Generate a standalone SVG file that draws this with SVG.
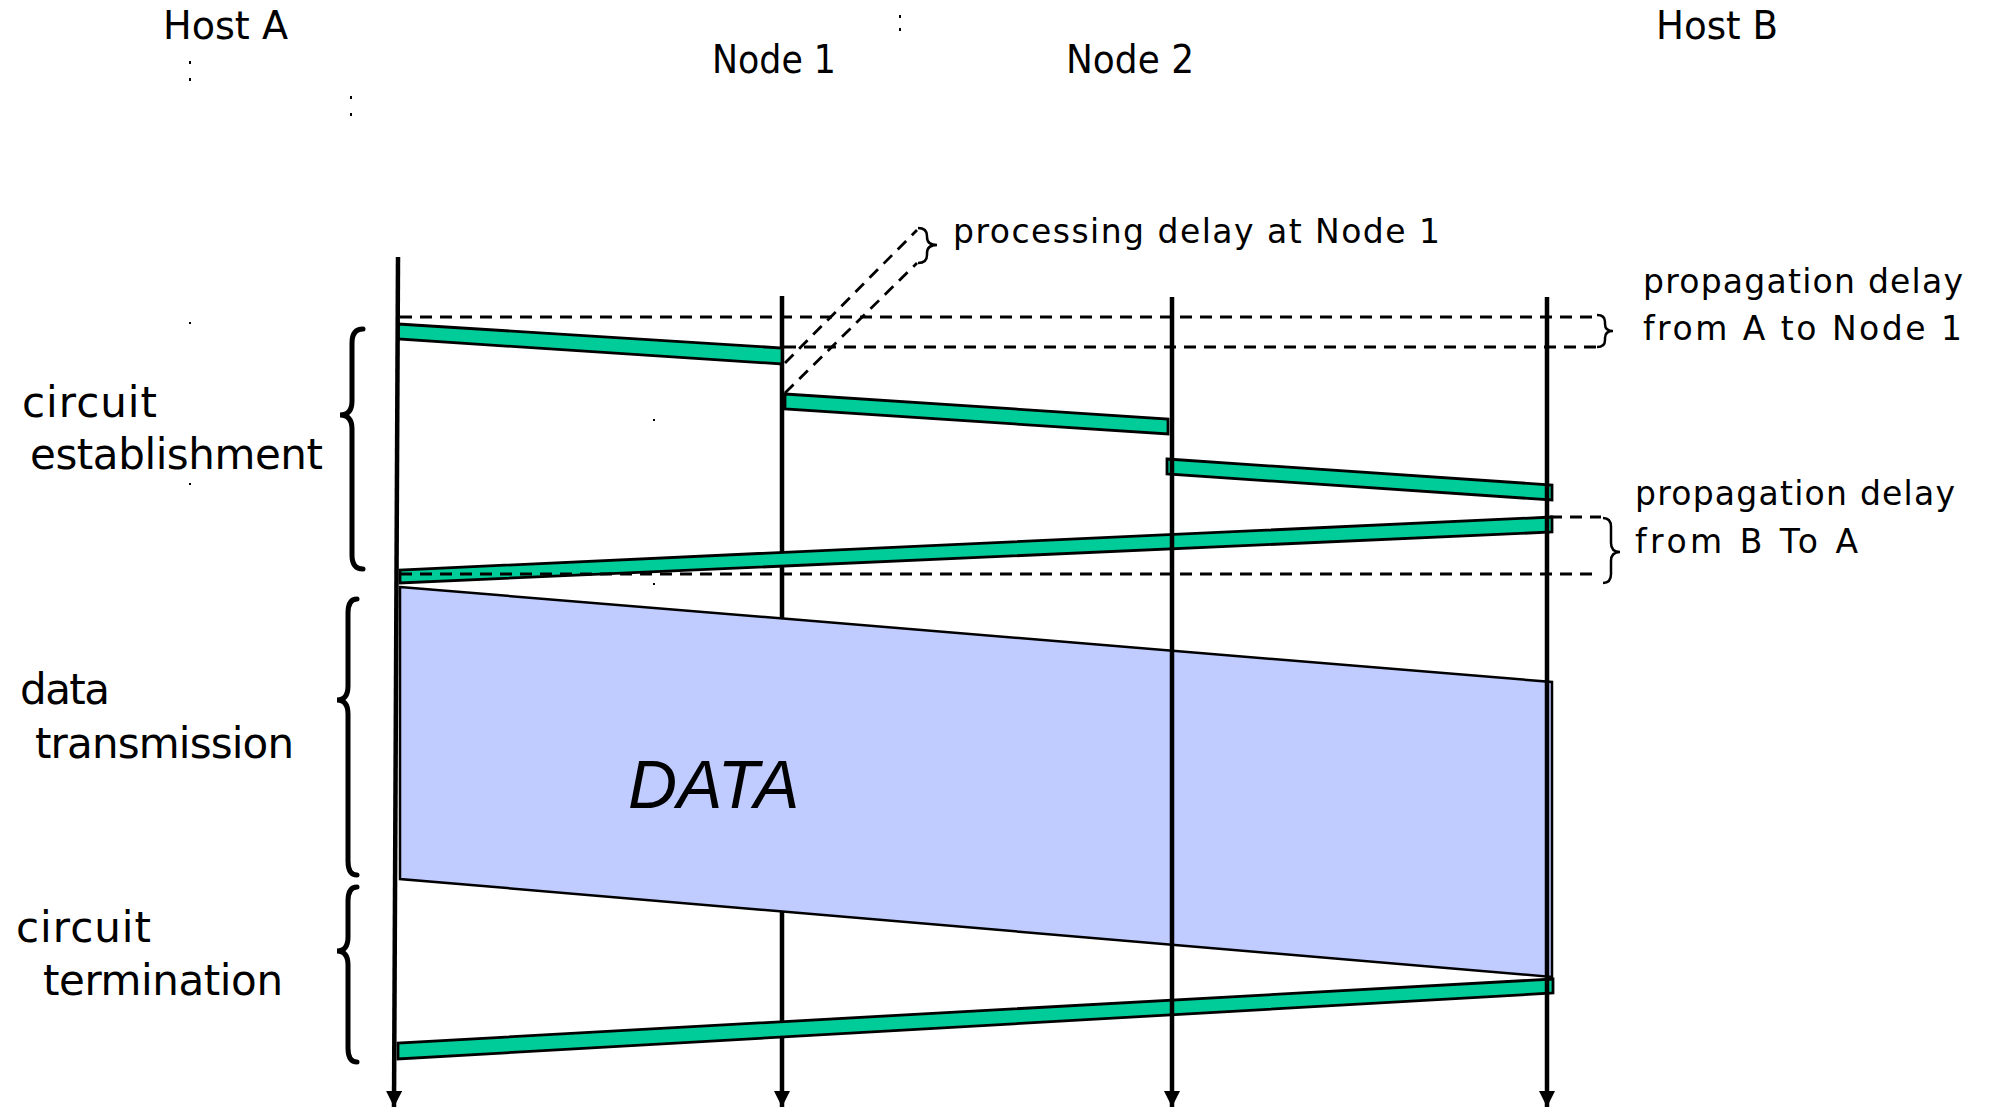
<svg xmlns="http://www.w3.org/2000/svg" width="1990" height="1107" viewBox="0 0 1990 1107">
  <style>
    .lbl { font-family: "DejaVu Sans", "Noto Sans", sans-serif; fill: #000; }
    .head { font-size: 39px; }
    .phase { font-size: 42px; }
    .note { font-size: 33px; }
    .timeline { stroke: #000; stroke-width: 4.5; fill: none; marker-end: url(#arrow); }
    .bar { fill: #00CC99; stroke: #000; stroke-width: 2.8; stroke-linejoin: miter; }
    .data { fill: #C0CBFF; stroke: #000; stroke-width: 2.5; }
    .dash { stroke: #000; stroke-width: 2.8; stroke-dasharray: 12 8; fill: none; }
    .brace-big { stroke: #000; stroke-width: 5; fill: none; stroke-linecap: round; }
    .brace-thin { stroke: #000; stroke-width: 2.5; fill: none; }
    .dot { fill: #000; }
  </style>
  <defs>
    <marker id="arrow" markerUnits="userSpaceOnUse" markerWidth="17" markerHeight="17" refX="16" refY="8" orient="auto">
      <path d="M0,0 L16,8 L0,16 z" fill="#000"/>
    </marker>
  </defs>

  <rect width="1990" height="1107" fill="#fff"/>

  <!-- column headings -->
  <g id="headings">
    <text class="lbl head" x="163" y="39" textLength="125" lengthAdjust="spacingAndGlyphs">Host A</text>
    <text class="lbl head" x="712" y="73" textLength="124" lengthAdjust="spacingAndGlyphs">Node 1</text>
    <text class="lbl head" x="1066" y="73" textLength="128" lengthAdjust="spacingAndGlyphs">Node 2</text>
    <text class="lbl head" x="1656" y="39" textLength="122" lengthAdjust="spacingAndGlyphs">Host B</text>
  </g>

  <!-- stray marks -->
  <g id="marks">
    <rect class="dot" x="189" y="61" width="2" height="3"/>
    <rect class="dot" x="189" y="78" width="2" height="3"/>
    <rect class="dot" x="350" y="96" width="2" height="3"/>
    <rect class="dot" x="350" y="113" width="2" height="3"/>
    <rect class="dot" x="899" y="15" width="2" height="3"/>
    <rect class="dot" x="899" y="28" width="2" height="3"/>
    <rect class="dot" x="189" y="322" width="2" height="2"/>
    <rect class="dot" x="189" y="483" width="2" height="2"/>
    <rect class="dot" x="653" y="419" width="2" height="2"/>
    <rect class="dot" x="653" y="583" width="2" height="2"/>
  </g>

  <!-- Node 1 timeline sits beneath the messages -->
  <g id="node-1">
    <line class="timeline" x1="782" y1="296" x2="782" y2="1107"/>
  </g>

  <!-- messages, data block and delay markers -->
  <g id="connectors">
    <polygon class="data" points="400,587 1552,682 1552,977 400,879"/>
    <text x="628" y="808" font-family="'Liberation Sans', Arial, sans-serif" font-style="italic" font-size="68">DATA</text>

    <!-- circuit setup request, hop by hop -->
    <polygon class="bar" points="398,324 782,348 782,364 398,339"/>
    <polygon class="bar" points="785,394 1168,419 1168,434 785,409"/>
    <polygon class="bar" points="1167,459 1552,485 1552,500 1167,474"/>
    <!-- confirmation back to Host A -->
    <polygon class="bar" points="1552,517 400,570 400,583 1552,532"/>
    <!-- circuit teardown -->
    <polygon class="bar" points="1553,979 398,1043 398,1059 1553,993"/>

    <!-- delay guides -->
    <line class="dash" x1="400" y1="317" x2="1597" y2="317"/>
    <line class="dash" x1="784" y1="347" x2="1597" y2="347"/>
    <line class="dash" x1="1550" y1="517" x2="1601" y2="517"/>
    <line class="dash" x1="400" y1="574" x2="1594" y2="574"/>
    <line class="dash" x1="785" y1="363" x2="917" y2="230"/>
    <line class="dash" x1="785" y1="393" x2="917" y2="263"/>

    <path class="brace-thin" d="M918,228 Q927,228 927,236 L927,237 Q927,245 937,245 Q927,245 927,253 L927,255 Q927,263 918,263"/>
    <path class="brace-thin" d="M1597,315 Q1605,315 1605,322 L1605,324 Q1605,331 1613,331 Q1605,331 1605,338 L1605,340 Q1605,347 1597,347"/>
    <path class="brace-thin" d="M1603,518 Q1611,518 1611,527 L1611,543 Q1611,552 1620,552 Q1611,552 1611,561 L1611,574 Q1611,583 1603,583"/>
  </g>

  <!-- remaining timelines drawn on top -->
  <g id="host-a">
    <line class="timeline" x1="398" y1="257" x2="394" y2="1107"/>
  </g>
  <g id="node-2">
    <line class="timeline" x1="1172" y1="297" x2="1172" y2="1107"/>
  </g>
  <g id="host-b">
    <line class="timeline" x1="1547" y1="297" x2="1547" y2="1107"/>
  </g>

  <!-- delay annotations -->
  <g id="annotations">
    <text class="lbl note" x="953" y="243" textLength="487">processing delay at Node 1</text>
    <text class="lbl note" x="1643" y="293" textLength="320">propagation delay</text>
    <text class="lbl note" x="1643" y="340" textLength="319">from A to Node 1</text>
    <text class="lbl note" x="1635" y="505" textLength="320">propagation delay</text>
    <text class="lbl note" x="1635" y="553" textLength="223">from B To A</text>
  </g>

  <!-- phases -->
  <g id="phase-establishment">
    <path class="brace-big" d="M363,329 Q352,329 352,343 L352,401 Q352,415 340,415 Q352,415 352,429 L352,555 Q352,569 363,569"/>
    <text class="lbl phase" x="22" y="417" textLength="135">circuit</text>
    <text class="lbl phase" x="30" y="469" textLength="293">establishment</text>
  </g>
  <g id="phase-transmission">
    <path class="brace-big" d="M357,599 Q348,599 348,613 L348,686 Q348,700 337,700 Q348,700 348,714 L348,861 Q348,875 357,875"/>
    <text class="lbl phase" x="20" y="704" textLength="90">data</text>
    <text class="lbl phase" x="35" y="758" textLength="259">transmission</text>
  </g>
  <g id="phase-termination">
    <path class="brace-big" d="M357,887 Q348,887 348,901 L348,937 Q348,951 337,951 Q348,951 348,965 L348,1048 Q348,1062 357,1062"/>
    <text class="lbl phase" x="16" y="942" textLength="135">circuit</text>
    <text class="lbl phase" x="43" y="995" textLength="240">termination</text>
  </g>
</svg>
